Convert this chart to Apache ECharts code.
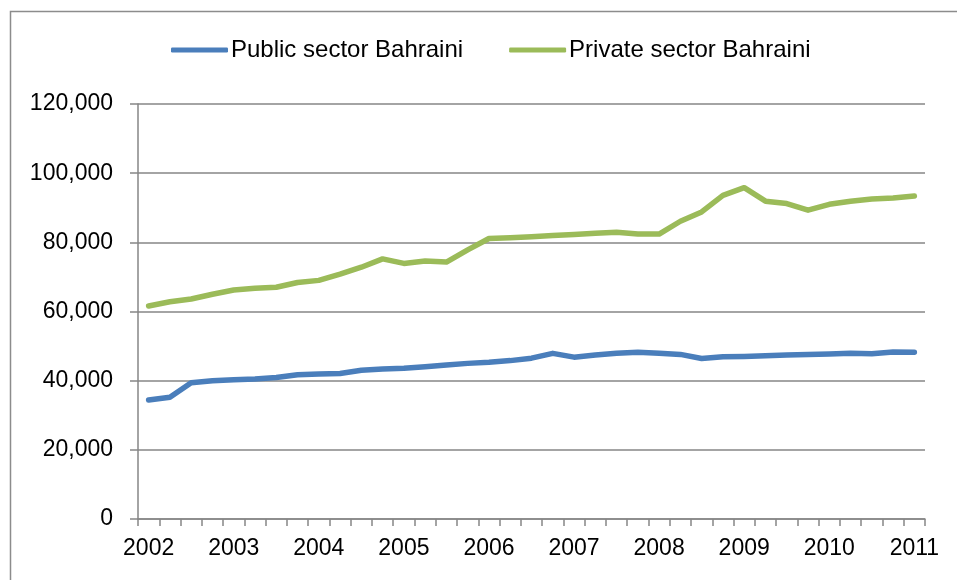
<!DOCTYPE html>
<html>
<head>
<meta charset="utf-8">
<script src="https://cdn.jsdelivr.net/npm/echarts@6/dist/echarts.min.js"></script>
<style>
  html, body { margin: 0; padding: 0; background: #ffffff; }
  #chart { width: 957px; height: 580px; }
</style>
</head>
<body>
<div id="chart"></div>
<script>
// Quarterly periods, 2002 Q1 to 2011 Q1; only the first quarter of each year is labelled
const quarters = [
  '2002', '2002 Q2', '2002 Q3', '2002 Q4',
  '2003', '2003 Q2', '2003 Q3', '2003 Q4',
  '2004', '2004 Q2', '2004 Q3', '2004 Q4',
  '2005', '2005 Q2', '2005 Q3', '2005 Q4',
  '2006', '2006 Q2', '2006 Q3', '2006 Q4',
  '2007', '2007 Q2', '2007 Q3', '2007 Q4',
  '2008', '2008 Q2', '2008 Q3', '2008 Q4',
  '2009', '2009 Q2', '2009 Q3', '2009 Q4',
  '2010', '2010 Q2', '2010 Q3', '2010 Q4',
  '2011'
];

const seriesNames = ['Public sector Bahraini', 'Private sector Bahraini'];

const publicSector = [
  34400, 35200, 39400, 40000, 40300, 40500, 40900, 41700,
  41900, 42100, 43000, 43400, 43600, 44000, 44500, 45000,
  45300, 45800, 46500, 47900, 46800, 47400, 47900, 48200,
  47900, 47600, 46400, 46900, 47000, 47200, 47400, 47600,
  47700, 47900, 47800, 48300, 48200
];

const privateSector = [
  61600, 62800, 63600, 65000, 66200, 66700, 67000, 68400,
  69000, 70800, 72800, 75200, 73900, 74600, 74300, 77800,
  81100, 81300, 81600, 82000, 82300, 82600, 82900, 82400,
  82400, 86100, 88800, 93600, 95800, 91900, 91200, 89300,
  91000, 91900, 92500, 92800, 93400
];

const yTicks = { min: 0, max: 120000, step: 20000 };

const font = 'Liberation Sans, Arial, sans-serif';
const gridColor = '#868686';

const chart = echarts.init(document.getElementById('chart'), null, { renderer: 'canvas' });

chart.setOption({
  backgroundColor: '#ffffff',
  animation: false,
  color: ['#4a7ebb', '#9bbb59'],
  graphic: [{
    type: 'rect',
    left: 8,
    top: 9,
    shape: { width: 1000, height: 600 },
    style: { fill: 'none', stroke: '#8c8c8c', lineWidth: 1.5 },
    silent: true
  }],
  legend: {
    top: 33,
    left: 166,
    data: seriesNames,
    icon: 'roundRect',
    itemWidth: 57,
    itemHeight: 5,
    itemGap: 46,
    textStyle: { fontFamily: font, fontSize: 24, color: '#000000', padding: [0, 0, 0, -2] }
  },
  grid: { left: 138, right: 32, top: 104, bottom: 61, containLabel: false },
  xAxis: {
    type: 'category',
    data: quarters,
    boundaryGap: true,
    axisLine: { lineStyle: { color: gridColor, width: 1.5 } },
    axisTick: { show: true, interval: 0, length: 7, lineStyle: { color: gridColor, width: 1.5 } },
    axisLabel: {
      interval: 3,
      margin: 18,
      fontFamily: font,
      fontSize: 23,
      color: '#000000',
      formatter: (v) => v.length === 4 ? v : ''
    },
    splitLine: { show: false }
  },
  yAxis: {
    type: 'value',
    min: yTicks.min,
    max: yTicks.max,
    interval: yTicks.step,
    axisLine: { show: true, lineStyle: { color: gridColor, width: 1.5 } },
    axisTick: { show: true, length: 8, lineStyle: { color: gridColor, width: 1.5 } },
    axisLabel: {
      margin: 25,
      fontFamily: font,
      fontSize: 23,
      color: '#000000',
      formatter: (v) => v.toLocaleString('en-US')
    },
    splitLine: { show: true, lineStyle: { color: gridColor, width: 1.5 } }
  },
  series: [
    {
      name: seriesNames[0],
      type: 'line',
      data: publicSector,
      symbol: 'none',
      lineStyle: { width: 5.5, cap: 'round', join: 'round' }
    },
    {
      name: seriesNames[1],
      type: 'line',
      data: privateSector,
      symbol: 'none',
      lineStyle: { width: 5.5, cap: 'round', join: 'round' }
    }
  ]
});
</script>
</body>
</html>
